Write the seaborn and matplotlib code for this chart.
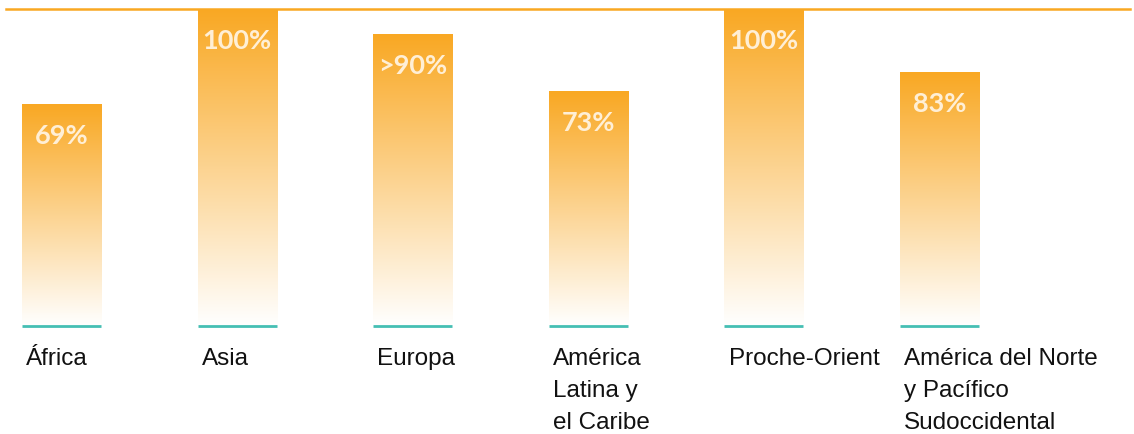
import numpy as np
import pandas as pd
import matplotlib
matplotlib.use("Agg")
import matplotlib.pyplot as plt
import matplotlib.transforms as mtransforms
from matplotlib.colors import to_rgb
import seaborn as sns

# data
regions = ["África", "Asia", "Europa", "América\nLatina y\nel Caribe",
           "Proche-Orient", "América del Norte\ny Pacífico\nSudoccidental"]
heights = [70, 100, 92, 74, 100, 80]
value_labels = ["69%", "100%", ">90%", "73%", "100%", "83%"]

ORANGE = "#F9A823"
TEAL = "#45BFB3"

df = pd.DataFrame({"region": regions, "value": heights})

sns.set_style("white")
fig = plt.figure(figsize=(11.34, 4.34), dpi=100)
ax = fig.add_axes([6 / 1134, 1 - 326 / 434, 1124 / 1134, 317 / 434])

sns.barplot(data=df, x="region", y="value", order=regions, width=0.45,
            color=ORANGE, ax=ax)

# vertical gradient inside every bar: orange on top fading to white
top = np.array(to_rgb(ORANGE))
frac = np.linspace(0, 1, 256)[:, None]
grad = top * (1 - frac) + np.ones(3) * frac
grad = grad[:, None, :]

for patch, lab in zip(ax.patches, value_labels):
    x0, w, h = patch.get_x(), patch.get_width(), patch.get_height()
    patch.set_facecolor("none")
    patch.set_edgecolor("none")
    im = ax.imshow(grad, extent=[x0, x0 + w, 0, h], aspect="auto",
                   origin="upper", zorder=2, interpolation="bilinear")
    im.set_clip_path(patch)
    # teal base line under each bar
    ax.plot([x0, x0 + w], [0, 0], color=TEAL, lw=2, zorder=3,
            solid_capstyle="butt", clip_on=False)
    # value label inside the bar
    ax.annotate(lab, xy=(x0 + w / 2, h), xytext=(0, -23), textcoords="offset points",
                ha="center", va="center", fontsize=19.5, fontweight="bold",
                family="Lato", color="#FFEFD6", zorder=4)

# region names below the bars, left aligned with the bar
trans = mtransforms.blended_transform_factory(ax.transData, ax.transAxes)
for patch, name in zip(ax.patches, regions):
    ax.annotate(name, xy=(patch.get_x(), 0), xycoords=trans,
                xytext=(3, -16), textcoords="offset points",
                ha="left", va="top", fontsize=17.5, family="Liberation Sans",
                color="#111111", linespacing=1.58, annotation_clip=False)

ax.set_xlim(-0.316, 6.085)
ax.set_ylim(0, 100)
ax.set_xticks([])
ax.set_yticks([])
ax.set_xlabel("")
ax.set_ylabel("")
for side in ["left", "right", "bottom"]:
    ax.spines[side].set_visible(False)
ax.spines["top"].set_color(ORANGE)
ax.spines["top"].set_linewidth(1.8)
ax.spines["top"].set_zorder(5)

fig.savefig("out.png", dpi=100)
